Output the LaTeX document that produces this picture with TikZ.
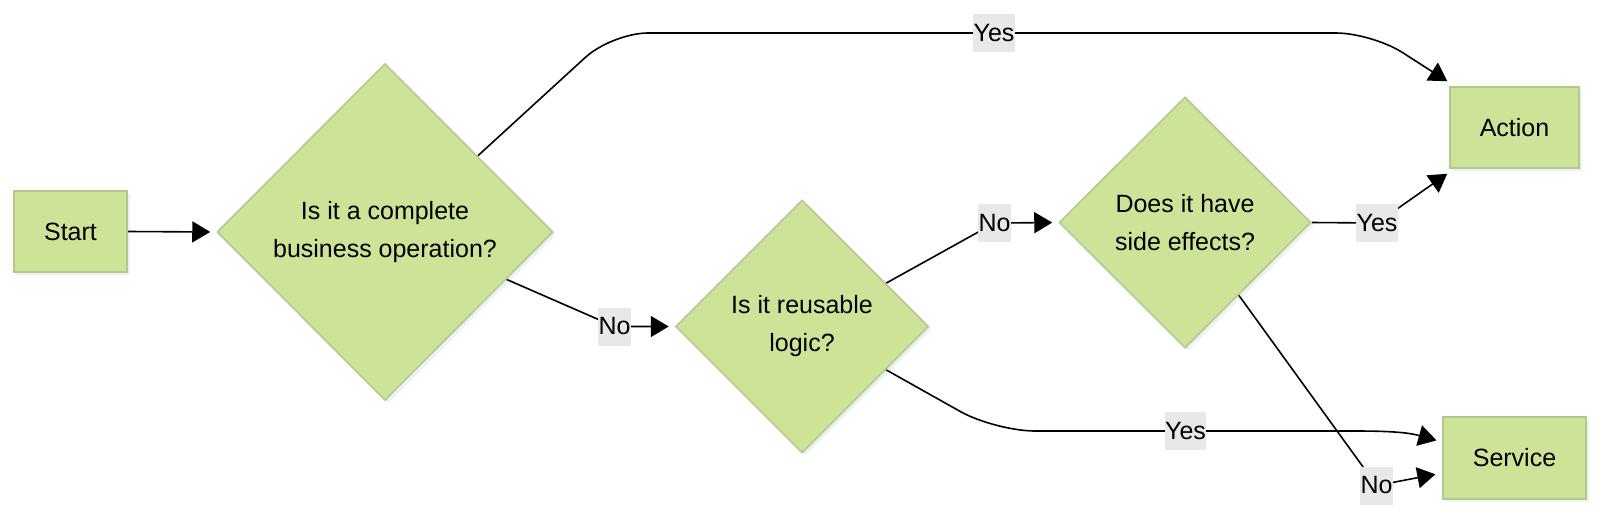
\documentclass[tikz,border=0pt]{standalone}
\usepackage{fontspec}
\setmainfont{Liberation Sans}
\usetikzlibrary{arrows.meta,shapes.geometric,calc,shadows,backgrounds}
\definecolor{nodefill}{HTML}{CDE498}
\definecolor{nodeline}{HTML}{B0C98F}
\definecolor{lblbg}{HTML}{E8E8E8}
\begin{document}
\begin{tikzpicture}[x=1pt,y=-1pt,
  base/.style={draw=nodeline, line width=1.5pt, fill=nodefill, inner sep=0pt,
    drop shadow={opacity=0.12, shadow xshift=3pt, shadow yshift=-3pt},
    font=\fontsize{25}{38}\selectfont, align=center},
  boxnode/.style={base, rectangle},
  decision/.style={base, diamond},
  lbl/.style={fill=lblbg, inner xsep=0.5pt, inner ysep=0pt, minimum height=38pt,
    font=\fontsize{25}{30}\selectfont},
  edge/.style={line width=1.6pt, -{Triangle[length=18pt,width=21pt]}}
]
\useasboundingbox (0,0) rectangle (1600,519);

\node[boxnode, minimum width=113pt, minimum height=81pt] (start) at (70.5,231.5) {Start};
\node[decision, minimum width=336pt, minimum height=337pt] (d1) at (385,232) {Is it a complete\\business operation?};
\node[decision, minimum width=253pt, minimum height=253pt] (d2) at (802,326.5) {Is it reusable\\logic?};
\node[decision, minimum width=252pt, minimum height=251pt] (d3) at (1185,222.5) {Does it have\\side effects?};
\node[boxnode, minimum width=129pt, minimum height=81pt] (act) at (1514.5,127.5) {Action};
\node[boxnode, minimum width=143pt, minimum height=82pt] (svc) at (1514.5,458) {Service};

\node[lbl] (lY1) at (994,33) {Yes};
\node[lbl] (lN1) at (614.5,326.5) {No};
\node[lbl] (lN2) at (994.5,223) {No};
\node[lbl] (lY2) at (1185.5,431) {Yes};
\node[lbl] (lY3) at (1377,223) {Yes};
\node[lbl] (lN4) at (1376.5,485.5) {No};

\coordinate (svcin) at ($(svc.west)+(0,-16)$);
\coordinate (svcin2) at ($(svc.west)+(0,15)$);

\begin{scope}[on background layer]
\draw[edge, shorten >=6pt] (start.east) -- (d1.west);
\draw[edge, rounded corners=36pt] ($(d1.north)!0.55!(d1.east)$) -- (612,33) -- (lY1.center) -- (1372,33) -- ($(act.north west)+(-2,-5)$);
\draw[edge, shorten >=6pt] ($(d1.east)!0.28!(d1.south)$) -- (lN1.center) -- (d2.west);
\draw[edge, shorten >=6pt] ($(d2.north)!0.66!(d2.east)$) -- (lN2.center) -- (d3.west);
\draw[edge, shorten >=6pt] ($(d2.east)!0.34!(d2.south)$) [rounded corners=40pt] -- (995,431) -- (lY2.center) [sharp corners] -- (1355,431) .. controls (1395,431) and (1410,433) .. (svcin);
\draw[edge] (d3.east) -- (lY3.center) -- ($(act.south west)+(-2,5)$);
\draw[edge, shorten >=7pt] ($(d3.east)!0.576!(d3.south)$) -- (lN4.center) -- (svcin2);
\end{scope}
\end{tikzpicture}
\end{document}
